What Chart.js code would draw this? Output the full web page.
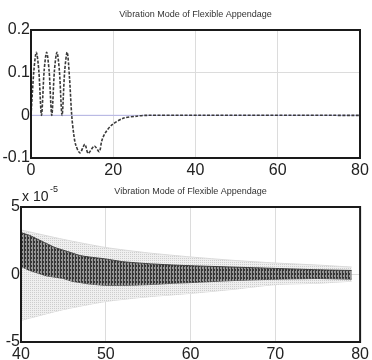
<!DOCTYPE html>
<html>
<head>
<meta charset="utf-8">
<script src="https://cdn.jsdelivr.net/npm/chart.js@4"></script>
<style>
body{margin:0;background:#fff;}
canvas{position:absolute;left:0;}
#topChart{top:0;}
#bottomChart{top:180px;}
</style>
</head>
<body>
<canvas id="topChart" width="372" height="180"></canvas>
<canvas id="bottomChart" width="372" height="180"></canvas>
<script>
const TITLE = "Vibration Mode of Flexible Appendage";
// top plot: time response
const topX = [0,0.7,1.3,1.9,2.55,3.2,3.8,4.4,5.05,5.7,6.3,6.9,7.55,8.2,8.8,9.35,9.9,10.4,10.9,11.9,13.1,13.9,15.4,16.6,17.2,18.0,19.6,22.4,25.7,28,80];
const topY = [0,0.105,0.148,0.105,0,0.105,0.148,0.105,0,0.105,0.148,0.105,0,0.105,0.148,0.09,0,-0.045,-0.07,-0.088,-0.068,-0.089,-0.072,-0.085,-0.06,-0.042,-0.023,-0.007,-0.002,0,0];
const refX = [0,80];
const refY = [0,0];
const topXTicks = [0,20,40,60,80];
const topYTicks = [-0.1,0,0.1,0.2];
// bottom plot: zoom 40..80 (values in units of 1e-5)
const envX = [40,45,50,55,60,65,70,75,79];
const envUpper = [3.3,2.6,2.0,1.6,1.3,1.05,0.85,0.7,0.55];
const envLower = [-3.4,-2.6,-2.0,-1.65,-1.4,-1.1,-0.75,-0.65,-0.5];
const bandX = [40,41,42,43,44,45,46,47,48,50,52,55,58,60,65,70,75,79];
const bandUpper = [3.1,2.9,2.6,2.3,2.0,1.8,1.6,1.4,1.3,1.15,0.95,0.8,0.7,0.65,0.55,0.45,0.35,0.3];
const bandLower = [0.6,0.3,0.1,-0.1,-0.2,-0.3,-0.5,-0.6,-0.7,-0.8,-0.8,-0.75,-0.65,-0.6,-0.45,-0.35,-0.3,-0.35];
const botXTicks = [40,50,60,70,80];
const botYTicks = [-5,0,5];

const pts=(xs,ys)=>xs.map((x,i)=>({x:x,y:ys[i]}));

// small texture fills to mimic the dense oscillation
function makePattern(w,h,bg,fg,cells){
  const c=document.createElement('canvas');c.width=w;c.height=h;
  const g=c.getContext('2d');g.fillStyle=bg;g.fillRect(0,0,w,h);
  g.fillStyle=fg;cells.forEach(p=>g.fillRect(p[0],p[1],p[2],p[3]));
  return g.createPattern(c,'repeat');
}
const stripes=makePattern(3,4,'#979797','#353535',[[0,0,1,4],[1,1,1,2]]);
const dots=makePattern(2,2,'#efefef','#cdcdcd',[[0,0,1,1]]);

const boxPlugin={
  id:'box',
  afterDraw(chart,args,opts){
    const ctx=chart.ctx, a=chart.chartArea;
    ctx.save();
    ctx.strokeStyle='#1a1a1a';ctx.lineWidth=2;
    ctx.strokeRect(a.left,a.top,a.right-a.left,a.bottom-a.top);
    ctx.fillStyle='#333';ctx.font='9px "Liberation Sans", Arial, sans-serif';
    ctx.textAlign='center';ctx.textBaseline='middle';
    ctx.fillText(TITLE,(a.left+a.right)/2,opts.titleY);
    if(opts.exponent){
      ctx.fillStyle='#222';ctx.textAlign='left';ctx.textBaseline='alphabetic';
      ctx.font='14px "Liberation Sans", Arial, sans-serif';
      ctx.fillText('x 10',22,21);
      ctx.font='9px "Liberation Sans", Arial, sans-serif';
      ctx.fillText('-5',50,12);
    }
    ctx.restore();
  }
};

const tickFont={family:'"Liberation Sans", Arial, sans-serif',size:16};
function scaleX(min,max,ticks,h){
  return {type:'linear',min:min,max:max,
    afterBuildTicks:s=>{s.ticks=ticks.map(v=>({value:v}));},
    afterFit:s=>{s.height=h;},
    grid:{color:'#dcdcdc',drawTicks:false},border:{display:false},
    ticks:{font:tickFont,color:'#222',padding:3,maxRotation:0,autoSkip:false}};
}
function scaleY(min,max,ticks,w,fmt){
  return {type:'linear',min:min,max:max,
    afterBuildTicks:s=>{s.ticks=ticks.map(v=>({value:v}));},
    afterFit:s=>{s.width=w;},
    grid:{color:'#dcdcdc',drawTicks:false},border:{display:false},
    ticks:{font:tickFont,color:'#222',padding:1,callback:fmt}};
}

new Chart(document.getElementById('topChart'),{
  type:'line',
  data:{datasets:[
    {data:pts(topX,topY),borderColor:'#3a3a3a',borderWidth:1.6,borderDash:[3,1.5],pointRadius:0,tension:0.3,fill:false},
    {data:pts(refX,refY),borderColor:'#b4b4e6',borderWidth:1,pointRadius:0,fill:false}
  ]},
  options:{responsive:false,animation:false,devicePixelRatio:1,
    layout:{padding:{top:30,right:12,left:0,bottom:0}},
    plugins:{legend:{display:false},tooltip:{enabled:false},box:{titleY:15}},
    scales:{
      x:scaleX(0,80,topXTicks,22),
      y:scaleY(-0.1,0.2,topYTicks,31,v=>String(Number(v.toFixed(1))))
    }},
  plugins:[boxPlugin]
});

new Chart(document.getElementById('bottomChart'),{
  type:'line',
  data:{datasets:[
    {data:pts(bandX,bandUpper),borderColor:'#3c3c3c',borderWidth:1,pointRadius:0,tension:0.2,fill:'+1',backgroundColor:stripes},
    {data:pts(bandX,bandLower),borderColor:'#5a5a5a',borderWidth:1,pointRadius:0,tension:0.2,fill:false},
    {data:pts(envX,envUpper),borderColor:'#dadada',borderWidth:1,pointRadius:0,tension:0.2,fill:'+1',backgroundColor:dots},
    {data:pts(envX,envLower),borderColor:'#dadada',borderWidth:1,pointRadius:0,tension:0.2,fill:false}
  ]},
  options:{responsive:false,animation:false,devicePixelRatio:1,
    layout:{padding:{top:27,right:8,left:0,bottom:0}},
    plugins:{legend:{display:false},tooltip:{enabled:false},box:{titleY:12,exponent:true}},
    scales:{
      x:scaleX(40,80,botXTicks,18),
      y:scaleY(-5,5,botYTicks,21,v=>String(v))
    }},
  plugins:[boxPlugin]
});
</script>
</body>
</html>
